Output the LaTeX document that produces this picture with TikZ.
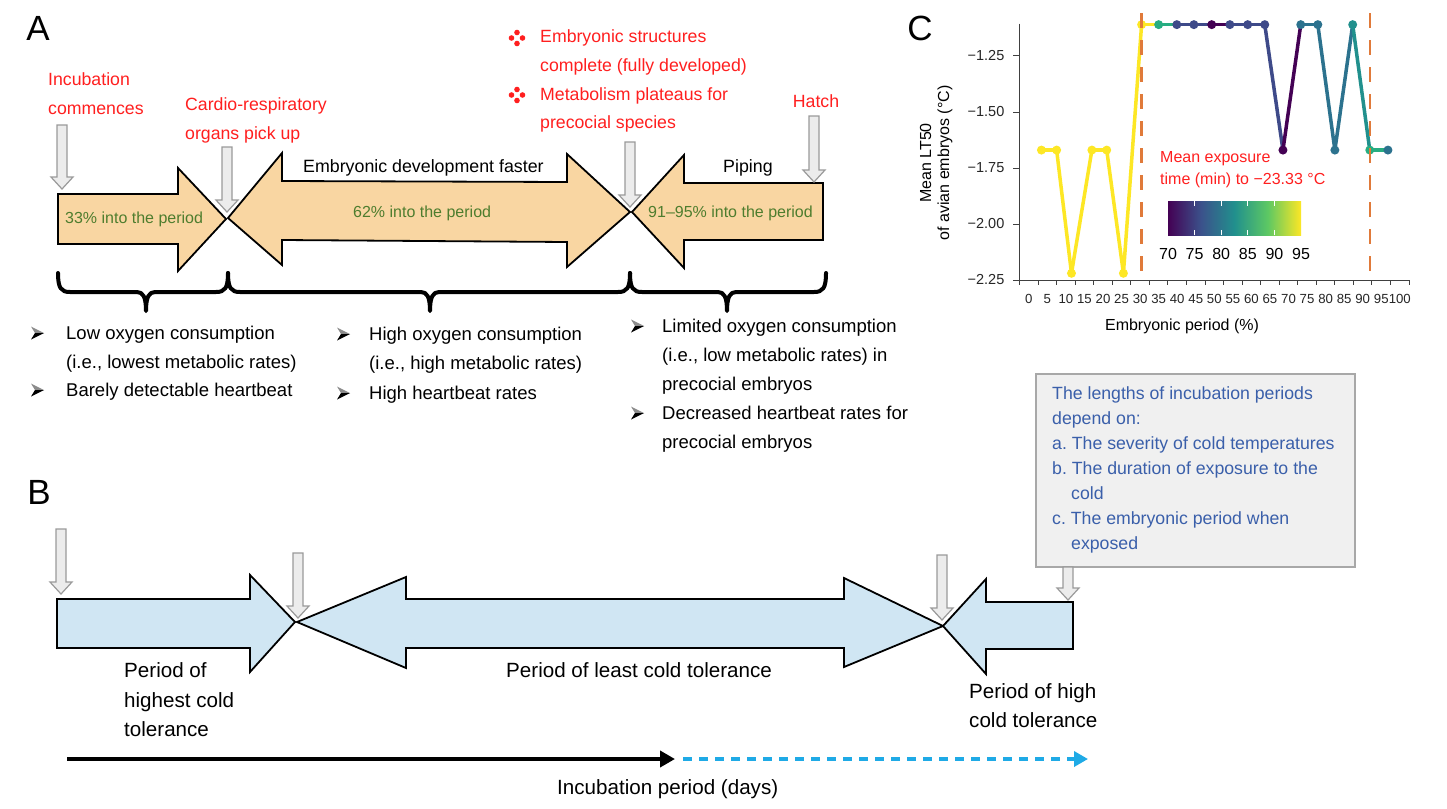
\documentclass[tikz,border=0pt]{standalone}
\usepackage{fontspec}
\setmainfont{Liberation Sans}
\usetikzlibrary{arrows.meta}
\frenchspacing

\definecolor{redtxt}{HTML}{FF1F1F}
\definecolor{greentxt}{HTML}{4E7D2E}
\definecolor{bluetxt}{HTML}{3A5FAA}
\definecolor{peach}{HTML}{F9D6A2}
\definecolor{lightblue}{HTML}{D0E6F3}
\definecolor{grayfill}{HTML}{ECECEC}
\definecolor{grayline}{HTML}{9A9A9A}
\definecolor{boxfill}{HTML}{F0F0F0}
\definecolor{boxline}{HTML}{A8A8A8}
\definecolor{dashblue}{HTML}{1FAAE6}
\definecolor{cutorange}{HTML}{E07A3A}
\definecolor{virP}{HTML}{440154}
\definecolor{virB}{HTML}{3E4A89}
\definecolor{virT}{HTML}{2C728E}
\definecolor{virTT}{HTML}{21908D}
\definecolor{virG}{HTML}{27AD81}
\definecolor{virY}{HTML}{FDE725}
\definecolor{virQ}{HTML}{3B528B}
\definecolor{virL}{HTML}{5DC863}

\pgfdeclarehorizontalshading{viridis}{100bp}{color(0bp)=(virP); color(25bp)=(virP);
  color(37.5bp)=(virQ); color(50bp)=(virTT); color(62.5bp)=(virL); color(75bp)=(virY);
  color(100bp)=(virY)}

\tikzset{
  panellabel/.style={inner sep=0pt, font=\fontsize{35}{40}\selectfont},
  redlabel/.style={anchor=base west, inner sep=0pt, text=redtxt, font=\fontsize{17.7}{20}\selectfont},
  greenlabel/.style={anchor=base west, inner sep=0pt, text=greentxt, font=\fontsize{16}{19}\selectfont},
  blacklabel/.style={anchor=base west, inner sep=0pt, font=\fontsize{17.8}{20}\selectfont},
  listtext/.style={anchor=base west, inner sep=0pt, font=\fontsize{18.5}{21}\selectfont},
  periodtext/.style={anchor=base west, inner sep=0pt, font=\fontsize{20.6}{24}\selectfont},
  notetext/.style={anchor=base west, inner sep=0pt, text=bluetxt, font=\fontsize{17.7}{20}\selectfont},
  yticklabel/.style={anchor=east, inner sep=0pt, text=black!85, font=\fontsize{14.5}{16}\selectfont},
  xticklabel/.style={inner sep=0pt, text=black!85, font=\fontsize{13.2}{16}\selectfont},
  charttext/.style={inner sep=0pt, font=\fontsize{16}{19}\selectfont},
  peacharrow/.style={draw=black, fill=peach, line width=1.8pt, line join=miter},
  bluearrow/.style={draw=black, fill=lightblue, line width=1.8pt, line join=miter},
  grayarrow/.style={draw=grayline, fill=grayfill, line width=1.2pt},
  bracestyle/.style={line width=4pt, line cap=round, line join=round},
  timeline/.style={line width=4pt, -{Triangle[length=15pt,width=16pt]}},
  futureline/.style={dashblue, line width=3.5pt, dash pattern=on 9pt off 7pt, -{Triangle[length=14pt,width=15pt]}},
  notebox/.style={draw=boxline, fill=boxfill, line width=1.5pt},
  axisline/.style={black!75, line width=1pt},
  dataline/.style={line width=3.5pt, line cap=round},
  cutline/.style={cutorange, line width=2.5pt, dash pattern=on 15pt off 12pt}
}

\begin{document}
\begin{tikzpicture}[x=1pt,y=-1pt]
\fill[white] (0,0) rectangle (1447,808);
\useasboundingbox (0,0) rectangle (1447,808);

% panel letters
\node[panellabel] (labA) at (38,28) {A};
\node[panellabel] (labB) at (39,492) {B};
\node[panellabel] (labC) at (920,28) {C};

% ---------------- panel A ----------------
% stage arrows
\draw[peacharrow] (58,194) -- (178,194) -- (178,168) -- (226,219) -- (178,271) -- (178,244) -- (58,244) -- cycle;
\draw[peacharrow] (228,218) -- (282,153) -- (282,181) -- (567,182) -- (567,154) -- (630,212)
  -- (567,267) -- (567,242) -- (282,240) -- (282,265) -- cycle;
\draw[peacharrow] (632,212) -- (684,155) -- (684,183) -- (823,183) -- (823,240) -- (684,240) -- (684,268) -- cycle;

% texts on the arrows
\node[greenlabel] (pctA) at (65,223) {33\% into the period};
\node[greenlabel] (pctB) at (353,217) {62\% into the period};
\node[greenlabel] (pctC) at (648,217) {91--95\% into the period};
\node[blacklabel] (faster) at (303,172) {Embryonic development faster};
\node[blacklabel] (piping) at (723,172) {Piping};

% events
\node[redlabel] (incub1) at (48,85) {Incubation};
\node[redlabel] (incub2) at (48,114) {commences};
\node[redlabel] (cardio1) at (185,110) {Cardio-respiratory};
\node[redlabel] (cardio2) at (185,139) {organs pick up};
\node[redlabel] (struct1) at (540,43) {Embryonic structures};
\node[redlabel] (struct2) at (540,71) {complete (fully developed)};
\node[redlabel] (metab1) at (540,100) {Metabolism plateaus for};
\node[redlabel] (metab2) at (540,128) {precocial species};
\node[redlabel, anchor=base] (hatch) at (816,107) {Hatch};
% red bullets
\foreach \by in {38,95}
  \foreach \dx/\dy in {-5.5/0, 5.5/0, 0/-5.5, 0/5.5}
    \fill[redtxt] (517+\dx,\by+\dy) circle (2.8);

% event markers
\foreach \gx/\gtop/\gtip in {62/125/189, 227/147/212, 630/142/207, 814/116/182}
  \draw[grayarrow] (\gx-5,\gtop) -- (\gx+5,\gtop) -- (\gx+5,\gtip-12) -- (\gx+11,\gtip-12)
    -- (\gx,\gtip) -- (\gx-11,\gtip-12) -- (\gx-5,\gtip-12) -- cycle;

% braces
\foreach \ba/\bm/\bb in {58/146/228, 228/430/630, 630/727/826}
  \draw[bracestyle] (\ba,273) .. controls (\ba,288) and (\ba+3,292) .. (\ba+12,292) -- (\bm-9,292)
    .. controls (\bm-3,292) and (\bm,297) .. (\bm,311) .. controls (\bm,297) and (\bm+3,292) .. (\bm+9,292)
    -- (\bb-12,292) .. controls (\bb-3,292) and (\bb,288) .. (\bb,273);

% list bullets
\foreach \bx/\by in {37/333, 37/390, 343/334, 343/393, 637/326, 637/413} {
  \fill[black!45] (\bx-6,\by-6.5) -- (\bx+7,\by) -- (\bx-2,\by) -- cycle;
  \fill[black] (\bx-6,\by+6.5) -- (\bx+7,\by) -- (\bx-2,\by) -- cycle;
}
\node[listtext] (low1) at (66,339) {Low oxygen consumption};
\node[listtext] (low2) at (66,368) {(i.e., lowest metabolic rates)};
\node[listtext] (low3) at (66,396) {Barely detectable heartbeat};
\node[listtext] (high1) at (369,340) {High oxygen consumption};
\node[listtext] (high2) at (369,369) {(i.e., high metabolic rates)};
\node[listtext] (high3) at (369,399) {High heartbeat rates};
\node[listtext] (lim1) at (662,332) {Limited oxygen consumption};
\node[listtext] (lim2) at (662,361) {(i.e., low metabolic rates) in};
\node[listtext] (lim3) at (662,390) {precocial embryos};
\node[listtext] (lim4) at (662,419) {Decreased heartbeat rates for};
\node[listtext] (lim5) at (662,448) {precocial embryos};

% ---------------- panel B ----------------
\draw[bluearrow] (57,599) -- (250,599) -- (250,575) -- (295,622) -- (250,672) -- (250,648) -- (57,648) -- cycle;
\draw[bluearrow] (297,622) -- (406,577) -- (406,599) -- (844,599) -- (844,578) -- (943,626)
  -- (844,667) -- (844,648) -- (406,648) -- (406,668) -- cycle;
\draw[bluearrow] (943,626) -- (986,579) -- (986,602) -- (1073,602) -- (1073,649) -- (986,649) -- (986,674) -- cycle;

\node[periodtext] (hig1) at (124,677) {Period of};
\node[periodtext] (hig2) at (124,707) {highest cold};
\node[periodtext] (hig3) at (124,736) {tolerance};
\node[periodtext] (least) at (506,677) {Period of least cold tolerance};
\node[periodtext] (hi1) at (969,698) {Period of high};
\node[periodtext] (hi2) at (969,727) {cold tolerance};

% note box
\draw[notebox] (1036,374) rectangle (1355,567);
\node[notetext] (note1) at (1052,399) {The lengths of incubation periods};
\node[notetext] (note2) at (1052,424) {depend on:};
\node[notetext] (note3) at (1052,449) {a. The severity of cold temperatures};
\node[notetext] (note4) at (1052,474) {b. The duration of exposure to the};
\node[notetext] (note5) at (1071,499) {cold};
\node[notetext] (note6) at (1052,524) {c. The embryonic period when};
\node[notetext] (note7) at (1071,549) {exposed};

\foreach \gx/\gtop/\gtip in {61/529/594, 298/553/618, 942/555/620, 1068/567/600}
  \draw[grayarrow] (\gx-5,\gtop) -- (\gx+5,\gtop) -- (\gx+5,\gtip-12) -- (\gx+11,\gtip-12)
    -- (\gx,\gtip) -- (\gx-11,\gtip-12) -- (\gx-5,\gtip-12) -- cycle;

% time axis
\coordinate (tstart) at (67,759);
\coordinate (tmid) at (675,759);
\coordinate (tdash) at (683,759);
\coordinate (tend) at (1088,759);
\draw[timeline] (tstart) -- (tmid);
\draw[futureline] (tdash) -- (tend);
\node[periodtext] (days) at (557,794) {Incubation period (days)};

% ---------------- panel C ----------------
\begin{scope}[shift={(1028.8,-224)}, x=3.71pt, y=224pt]
  % axes
  \draw[axisline] (-2.5,-1.105) -- (-2.5,-2.25) -- (102.5,-2.25);
  \foreach \v/\lab in {-1.25/−1.25, -1.50/−1.50, -1.75/−1.75, -2.00/−2.00, -2.25/−2.25} {
    \draw[axisline] (-2.5,\v) -- ++(-6.5pt,0);
    \node[yticklabel] at (-2.5,\v) [xshift=-15pt] {\lab};
  }
  \foreach \k in {0,...,21}
    \draw[axisline] (-2.5+5*\k,-2.25) -- ++(0,-5pt);
  \foreach \t in {0,5,...,100}
    \node[xticklabel] at (\t,-2.25) [yshift=-19pt] {\t};

  % data points
  \foreach \p/\v [count=\i] in {3.4/-1.67, 7.5/-1.67, 11.5/-2.22, 17.0/-1.67, 21.0/-1.67, 25.5/-2.22,
      30.4/-1.11, 35.0/-1.11, 39.9/-1.11, 44.5/-1.11, 49.3/-1.11, 54.2/-1.11, 59.0/-1.11,
      63.6/-1.11, 68.5/-1.67, 73.3/-1.11, 77.9/-1.11, 82.5/-1.67, 87.3/-1.11, 91.9/-1.67, 96.8/-1.67}
    \coordinate (d\i) at (\p,\v);
  \foreach \i/\j/\c in {1/2/virY, 2/3/virY, 3/4/virY, 4/5/virY, 5/6/virY, 6/7/virY, 7/8/virY,
      8/9/virG, 9/10/virB, 10/11/virB, 11/12/virP, 12/13/virB, 13/14/virB, 14/15/virB,
      15/16/virP, 16/17/virT, 17/18/virT, 18/19/virT, 19/20/virTT, 20/21/virG}
    \draw[dataline,\c] (d\i) -- (d\j);
  \foreach \i/\c in {1/virY, 2/virY, 3/virY, 4/virY, 5/virY, 6/virY, 7/virY, 8/virG, 9/virB,
      10/virB, 11/virP, 12/virB, 13/virB, 14/virB, 15/virP, 16/virT, 17/virT, 18/virT,
      19/virTT, 20/virG, 21/virT}
    \fill[\c] (d\i) circle (4.5pt);

  % period limits
  \draw[cutline] (30.4,-1.06) -- (30.4,-2.26);
  \draw[cutline] (92.0,-1.06) -- (92.0,-2.26);
\end{scope}

% axis titles
\node[charttext, anchor=base] (xtitle) at (1182,330) {Embryonic period (\%)};
\node[charttext, anchor=base, rotate=90] (ytitle1) at (931,163) {Mean LT50};
\node[charttext, anchor=base, rotate=90] (ytitle2) at (949,163) {of avian embryos (°C)};

% colour legend
\node[charttext, anchor=base west, text=redtxt] (leg1) at (1160,162) {Mean exposure};
\node[charttext, anchor=base west, text=redtxt] (leg2) at (1160,184) {time (min) to −23.33 °C};
\fill[shading=viridis] (1168,201) rectangle (1301,235);
\foreach \k in {1,...,4} {
  \draw[white, line width=1.2pt] (1168+26.6*\k,201) -- ++(0,5);
  \draw[white, line width=1.2pt] (1168+26.6*\k,235) -- ++(0,-5);
}
\foreach \lab [count=\k from 0] in {70,75,80,85,90,95}
  \node[charttext, anchor=base] (cb\lab) at (1168+26.6*\k,259) {\lab};

\end{tikzpicture}
\end{document}
